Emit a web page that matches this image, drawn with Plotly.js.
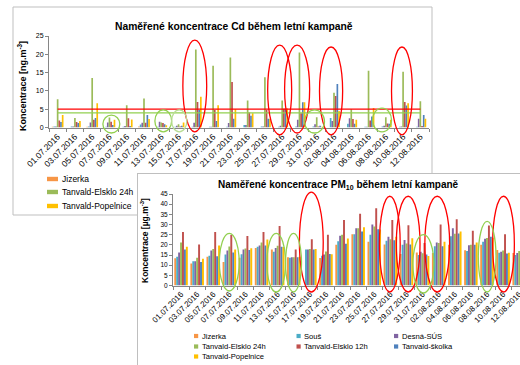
<!DOCTYPE html>
<html><head><meta charset="utf-8">
<script src="https://cdn.plot.ly/plotly-3.0.1.min.js"></script>
<style>html,body{margin:0;padding:0;background:#fff;}#chart{width:520px;height:365px;}</style>
</head><body><div id="chart"></div>
<script>
// ---------- data ----------
const categories = ['01.07.2016','03.07.2016','05.07.2016','07.07.2016','09.07.2016','11.07.2016','13.07.2016','15.07.2016','17.07.2016','19.07.2016','21.07.2016','23.07.2016','25.07.2016','27.07.2016','29.07.2016','31.07.2016','02.08.2016','04.08.2016','06.08.2016','08.08.2016','10.08.2016','12.08.2016'];
const seriesNames = ['Jizerka','Souš','Desná-SÚS','Tanvald-Elsklo 24h','Tanvald-Elsklo 12h','Tanvald-školka','Tanvald-Popelnice'];

// Cd [ng.m-3]
const cdJizerka    = [0.2,null,0.2,null,null,0.3,null,null,null,null,null,null,null,null,null,null,null,null,null,null,null,null];
const cdSous       = [0.3,0.3,0.3,0.2,0.2,0.8,0.2,0.2,0.2,0.2,0.2,0.7,0.3,0.2,0.3,0.3,2.6,1.0,0.2,0.3,0.2,0.2];
const cdDesna      = [0.3,0.3,1.4,1.4,0.4,1.3,1.6,0.5,1.3,0.2,1.2,0.7,0.3,0.5,2.1,0.9,1.8,2.5,0.2,0.5,0.3,2.4];
const cdElsklo24   = [7.7,2.6,13.5,2.7,6.1,7.9,1.4,0.9,21.3,16.9,19.1,7.4,13.7,7.4,20.5,2.8,9.5,5.0,15.5,2.8,15.2,7.2];
const cdElsklo12   = [1.9,1.5,2.1,1.6,2.5,1.3,1.2,0.3,7.0,4.8,12.4,4.1,4.8,5.1,3.9,0.3,8.6,2.3,1.9,1.1,7.0,0.4];
const cdSkolka     = [1.5,1.2,2.6,0.7,0.4,3.4,0.9,0.5,4.8,1.8,2.4,3.2,2.4,5.2,6.9,0.5,11.9,1.0,3.0,1.0,6.0,3.4];
const cdPopelnice  = [3.4,1.8,6.6,2.1,2.2,2.3,0.6,1.4,8.4,6.1,5.0,3.9,2.4,5.2,6.9,0.2,4.5,2.1,5.3,2.1,6.6,2.4];
const cdLimitRed   = 5;
const cdLimitGreen = 4;

// PM10 [ug.m-3]
const pmJizerka    = [13.4,10.8,14.2,11.6,13.7,18.5,17.7,13.9,null,13.5,20.0,25.2,21.5,20.2,15.5,16.2,16.0,20.0,17.3,20.1,17.4,16.0];
const pmSous       = [14.1,11.9,14.6,15.2,15.4,19.0,16.6,13.6,17.7,14.6,21.8,25.2,25.0,22.0,20.0,15.0,19.3,24.2,17.0,21.5,16.1,15.0];
const pmDesna      = [16.2,11.9,17.2,17.2,17.7,19.7,18.5,13.9,17.7,15.3,24.5,28.1,30.0,24.0,22.4,16.6,21.2,28.1,19.8,23.0,16.6,16.0];
const pmElsklo24   = [21.2,13.6,17.9,19.2,18.2,21.2,19.5,13.9,17.9,16.7,25.0,28.1,29.0,22.8,20.6,15.8,20.9,25.5,20.0,23.4,17.2,17.0];
const pmElsklo12   = [26.3,20.2,26.3,24.8,24.3,26.3,29.3,17.7,22.8,24.9,32.2,35.3,38.0,32.2,29.6,20.9,30.0,32.6,26.9,29.5,25.2,22.0];
const pmSkolka     = [17.7,11.6,14.4,16.2,17.5,19.7,19.0,13.9,17.7,15.5,20.5,26.5,27.7,22.2,20.2,15.3,19.3,25.6,20.0,24.0,15.7,16.0];
const pmPopelnice  = [19.0,13.2,19.7,17.7,18.3,22.6,18.9,14.2,17.9,15.4,23.1,28.6,27.5,24.0,23.2,14.5,21.5,26.6,21.2,23.5,16.1,18.0];

// ---------- styling ----------
const cdSeries = [cdJizerka,cdSous,cdDesna,cdElsklo24,cdElsklo12,cdSkolka,cdPopelnice];
const pmSeries = [pmJizerka,pmSous,pmDesna,pmElsklo24,pmElsklo12,pmSkolka,pmPopelnice];
const colors = ['#F79646','#4BACC6','#8064A2','#9BBB59','#C0504D','#4F81BD','#FFC000'];
const W = 520, H = 365;
const fx = px => px / W;
const fy = py => 1 - py / H;
const FONT = 'Liberation Sans, Arial, sans-serif';
const AX = '#868686';

const traces = [];
const gwTop = 0.68, bwTop = gwTop / 7;
cdSeries.forEach((s, k) => traces.push({
  type: 'bar', x: categories, y: s, xaxis: 'x', yaxis: 'y',
  width: bwTop, offset: -gwTop / 2 + k * bwTop,
  marker: {color: colors[k], line: {width: 0}}, name: seriesNames[k],
  showlegend: false, hoverinfo: 'skip'
}));
traces.push({type: 'scatter', mode: 'lines', x: [categories[0], categories[categories.length - 1]],
  y: [cdLimitRed, cdLimitRed], xaxis: 'x', yaxis: 'y', line: {color: '#FF0000', width: 1.2}, showlegend: false, hoverinfo: 'skip'});
traces.push({type: 'scatter', mode: 'lines', x: [categories[0], categories[categories.length - 1]],
  y: [cdLimitGreen, cdLimitGreen], xaxis: 'x', yaxis: 'y', line: {color: '#92D050', width: 1.2}, showlegend: false, hoverinfo: 'skip'});
// dummy + cover subplots (to make the second chart sit on top of the first)
traces.push({type: 'scatter', mode: 'markers', x: [0], y: [0], xaxis: 'x2', yaxis: 'y2', marker: {opacity: 0}, showlegend: false, hoverinfo: 'skip'});
traces.push({type: 'scatter', mode: 'markers', x: [0], y: [0], xaxis: 'x3', yaxis: 'y3', marker: {opacity: 0}, showlegend: false, hoverinfo: 'skip'});
const gwBot = 0.84, bwBot = gwBot / 7;
pmSeries.forEach((s, k) => traces.push({
  type: 'bar', x: categories, y: s, xaxis: 'x4', yaxis: 'y4',
  width: bwBot, offset: -gwBot / 2 + k * bwBot,
  marker: {color: colors[k], line: {width: 0}}, name: seriesNames[k],
  showlegend: false, hoverinfo: 'skip'
}));

const catAxis = (domain, range, anchor, size) => ({
  domain, range, anchor, type: 'category', tickangle: -45,
  tickfont: {size, color: '#000', family: FONT},
  showline: true, linecolor: AX, linewidth: 1, ticks: 'outside', ticklen: 3, tickcolor: AX,
  tickson: 'boundaries', showgrid: false, zeroline: false, fixedrange: true
});
const valAxis = (domain, range, anchor, size) => ({
  domain, range, anchor, dtick: 5, tick0: 0,
  tickfont: {size, color: '#000', family: FONT},
  showline: true, linecolor: AX, linewidth: 1, ticks: 'outside', ticklen: 3, tickcolor: AX,
  showgrid: false, zeroline: false, fixedrange: true
});

const shapes = [];
// frame of first chart
shapes.push({type: 'rect', xref: 'paper', yref: 'paper', x0: fx(13), x1: fx(432), y0: fy(215), y1: fy(7),
  line: {color: '#BFBFBF', width: 1}, fillcolor: '#FFFFFF', layer: 'below'});

// highlight ellipses: [x0, x1, yLow, yHigh, color]
const topEllipses = [
  [7.25, 8.63, -1.2, 23.9, '#FF0000'], [12.16, 13.55, -2, 22.5, '#FF0000'], [13.14, 14.59, -1.5, 22.5, '#FF0000'],
  [15.16, 16.5, -2, 22, '#FF0000'], [19.33, 20.54, -2, 22, '#FF0000'],
  [2.62, 3.6, -1.5, 3.4, '#92D050'], [5.63, 6.6, -1.2, 4.8, '#92D050'], [6.6, 7.48, -1.2, 4.8, '#B9DD95'],
  [14.3, 15.45, -1.5, 4.8, '#92D050'], [18.23, 19.33, -1.2, 5.3, '#92D050']
];
topEllipses.forEach(e => shapes.push({type: 'circle', xref: 'x', yref: 'y domain', x0: e[0], x1: e[1],
  y0: e[2] / 25, y1: e[3] / 25, line: {color: e[4], width: 1.3}, layer: 'above'}));
const botEllipses = [
  [7.35, 8.83, -3.2, 45.9, '#FF0000'], [12.32, 13.61, -3.2, 43.9, '#FF0000'], [13.37, 14.84, -3.2, 43.9, '#FF0000'],
  [15.14, 16.68, -3.2, 43.9, '#FF0000'], [19.35, 20.7, -3.2, 43.9, '#FF0000'],
  [2.38, 3.61, -2.7, 25.6, '#92D050'], [5.33, 6.49, -3.2, 25.6, '#92D050'], [6.49, 7.48, -3.2, 25.6, '#92D050'],
  [14.4, 15.7, -3.7, 25, '#92D050'], [18.46, 19.56, -3.2, 31.5, '#92D050']
];
botEllipses.forEach(e => shapes.push({type: 'circle', xref: 'x4', yref: 'y4 domain', x0: e[0], x1: e[1],
  y0: e[2] / 45, y1: e[3] / 45, line: {color: e[4], width: 1.3}, layer: 'above'}));

const annotations = [];
const ann = (x, y, text, size, opts) => annotations.push(Object.assign({xref: 'paper', yref: 'paper', x, y, text,
  showarrow: false, font: {size, color: '#000', family: FONT}, xanchor: 'center', yanchor: 'middle'}, opts || {}));
ann(fx(233.5), fy(26), '<b>Naměřené koncentrace Cd během letní kampaně</b>', 10.3);
ann(fx(338.5), fy(185), '<b>Naměřené koncentrace PM<sub>10</sub> během letní kampaně</b>', 10);
ann(fx(22), fy(86), '<b>Koncentrace [ng.m<sup>-3</sup>]</b>', 9, {textangle: -90});
ann(fx(145), fy(241), '<b>Koncentrace [µg.m<sup>-3</sup>]</b>', 8.5, {textangle: -90});

// legend of first chart (only first column visible)
[[0, 179], [3, 192], [6, 206]].forEach(([k, py]) => {
  shapes.push({type: 'rect', xref: 'paper', yref: 'paper', x0: fx(47), x1: fx(58), y0: fy(py + 2.2), y1: fy(py - 2.2),
    line: {width: 0}, fillcolor: colors[k], layer: 'above'});
  ann(fx(60), fy(py), seriesNames[k], 8.5, {xanchor: 'left'});
});
// legend of second chart
const botLegend = [[0, 194, 336], [3, 194, 346.5], [6, 194, 356.5], [1, 296.5, 336], [4, 296.5, 346.5], [2, 394, 336], [5, 394, 346.5]];
botLegend.forEach(([k, px, py]) => {
  shapes.push({type: 'rect', xref: 'paper', yref: 'paper', x0: fx(px), x1: fx(px + 4.2), y0: fy(py + 2.1), y1: fy(py - 2.1),
    line: {width: 0}, fillcolor: colors[k], layer: 'above'});
  ann(fx(px + 5.5), fy(py), seriesNames[k], 7.6, {xanchor: 'left'});
});

const layout = {
  width: W, height: H, margin: {l: 0, r: 0, t: 0, b: 0, pad: 0},
  paper_bgcolor: '#FFFFFF', plot_bgcolor: '#FFFFFF',
  font: {family: FONT, color: '#000'},
  barmode: 'overlay', showlegend: false,
  xaxis: catAxis([fx(49), fx(429)], [-0.5, 21.5], 'y', 8.5),
  yaxis: valAxis([fy(127.5), fy(36)], [0, 25], 'x', 7),
  xaxis2: {domain: [0.4, 0.6], anchor: 'y2', visible: false, fixedrange: true},
  yaxis2: {domain: [0.1, 0.3], anchor: 'x2', visible: false, fixedrange: true},
  xaxis3: {domain: [fx(138), 1], anchor: 'y3', side: 'top', showline: true, linecolor: '#BFBFBF', linewidth: 1,
    showticklabels: false, ticks: '', showgrid: false, zeroline: false, range: [0, 1], fixedrange: true},
  yaxis3: {domain: [0, fy(174)], anchor: 'x3', side: 'left', showline: true, linecolor: '#BFBFBF', linewidth: 1,
    showticklabels: false, ticks: '', showgrid: false, zeroline: false, range: [0, 1], fixedrange: true},
  xaxis4: catAxis([fx(173), 1], [-0.5, 21.05], 'y4', 8),
  yaxis4: valAxis([fy(285.5), fy(194)], [0, 45], 'x4', 6.5),
  shapes, annotations
};
Plotly.newPlot('chart', traces, layout, {staticPlot: true, displayModeBar: false});
</script></body></html>
